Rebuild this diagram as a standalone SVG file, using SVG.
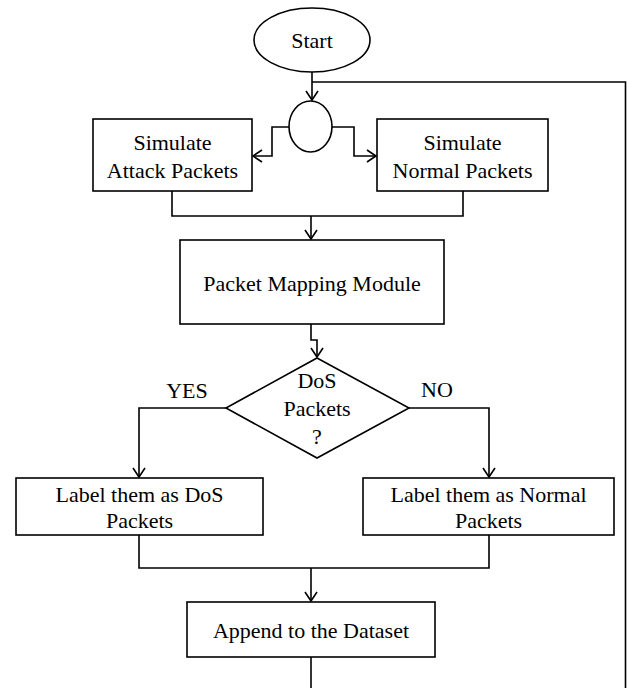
<svg xmlns="http://www.w3.org/2000/svg" width="629" height="688" viewBox="0 0 629 688">
<defs>
<style>
.box{fill:#fff;stroke:#000;stroke-width:1.6}
.ln{fill:none;stroke:#000;stroke-width:1.6}
.t{font-family:'Liberation Serif',serif;font-size:22px;fill:#000;text-anchor:middle}
</style>
<marker id="arr" markerUnits="userSpaceOnUse" markerWidth="20" markerHeight="20" viewBox="-10 -10 20 20" refX="0" refY="0" orient="auto">
<path d="M-9,-6 L0,0 L-9,6" fill="none" stroke="#000" stroke-width="1.6"/>
</marker>
</defs>
<rect width="629" height="688" fill="#fff"/>
<g id="connectors">
<path class="ln" d="M312,72 V100" marker-end="url(#arr)"/>
<path class="ln" d="M312,82 H625.5 V688"/>
<path class="ln" d="M289,127 H272 V156 H253" marker-end="url(#arr)"/>
<path class="ln" d="M332,127 H354 V156 H376" marker-end="url(#arr)"/>
<path class="ln" d="M172,191 V216 H463 V191"/>
<path class="ln" d="M311,216 V239" marker-end="url(#arr)"/>
<path class="ln" d="M311,324 V340 H317 V357" marker-end="url(#arr)"/>
<path class="ln" d="M226,408 H139 V477" marker-end="url(#arr)"/>
<path class="ln" d="M409,408 H489 V477" marker-end="url(#arr)"/>
<path class="ln" d="M139,535 V568 H489 V535"/>
<path class="ln" d="M311,568 V601" marker-end="url(#arr)"/>
<path class="ln" d="M311,657 V688"/>
</g>
<g id="start">
<ellipse class="box" cx="312" cy="40" rx="58" ry="32"/>
<text class="t" x="312" y="48">Start</text>
</g>
<g id="fork">
<ellipse class="box" cx="310.5" cy="126.5" rx="21.5" ry="25.5"/>
</g>
<g id="simAttack">
<rect class="box" x="93" y="119" width="159" height="72"/>
<text class="t" x="172.5" y="150">Simulate</text>
<text class="t" x="172.5" y="178">Attack Packets</text>
</g>
<g id="simNormal">
<rect class="box" x="377" y="119" width="171" height="72"/>
<text class="t" x="462.5" y="150">Simulate</text>
<text class="t" x="462.5" y="178">Normal Packets</text>
</g>
<g id="mapping">
<rect class="box" x="180" y="240" width="264" height="84"/>
<text class="t" x="312" y="291">Packet Mapping Module</text>
</g>
<g id="decision">
<polygon class="box" points="317,358 409,408 317,458 226,408"/>
<text class="t" x="317" y="388">DoS</text>
<text class="t" x="317" y="416">Packets</text>
<text class="t" x="317" y="444">?</text>
</g>
<text class="t" x="187" y="398">YES</text>
<text class="t" x="437" y="397">NO</text>
<g id="labelDos">
<rect class="box" x="16" y="478" width="247" height="57"/>
<text class="t" x="139.5" y="502">Label them as DoS</text>
<text class="t" x="139.5" y="528">Packets</text>
</g>
<g id="labelNormal">
<rect class="box" x="363" y="478" width="251" height="57"/>
<text class="t" x="488.5" y="502">Label them as Normal</text>
<text class="t" x="488.5" y="528">Packets</text>
</g>
<g id="append">
<rect class="box" x="187" y="602" width="248" height="55"/>
<text class="t" x="311" y="638">Append to the Dataset</text>
</g>
</svg>
